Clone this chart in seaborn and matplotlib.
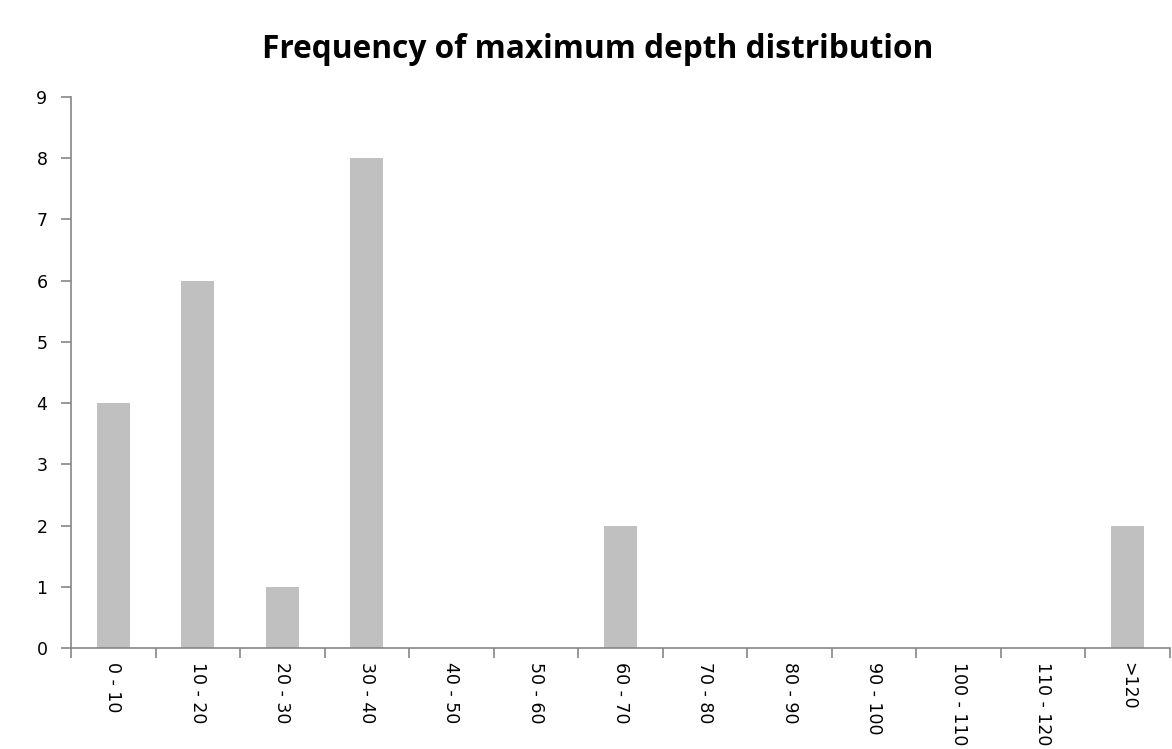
import matplotlib
matplotlib.use("Agg")
import matplotlib.pyplot as plt
import seaborn as sns
import pandas as pd
import numpy as np

categories = ["0 - 10", "10 - 20", "20 - 30", "30 - 40", "40 - 50", "50 - 60",
              "60 - 70", "70 - 80", "80 - 90", "90 - 100", "100 - 110",
              "110 - 120", ">120"]
counts = [4, 6, 1, 8, 0, 0, 2, 0, 0, 0, 0, 0, 2]
y_ticks = list(range(0, 10))
title = "Frequency of maximum depth distribution"

sns.set_theme(style="white")
plt.rcParams['font.family'] = ['DejaVu Sans']

df = pd.DataFrame({"range": categories, "count": counts})

fig = plt.figure(figsize=(11.72, 7.49), dpi=100)
ax = fig.add_axes([71/1172, 1-648/749, (1170-71)/1172, (648-97)/749])

sns.barplot(data=df, x="range", y="count", order=categories, color="#C0C0C0",
            width=0.39, saturation=1, ax=ax, edgecolor="none")

axis_col = "#868686"
ax.set_xlim(-0.5, len(categories) - 0.5)
ax.set_ylim(0, 9)
ax.set_yticks(y_ticks)
ax.set_yticklabels([str(v) for v in y_ticks], fontsize=12.5, color="#000000")
ax.set_xticks(range(len(categories)))
ax.set_xticklabels(categories, rotation=270, fontsize=12.5, color="#000000",
                   ha="center", va="top")
ax.set_xticks(np.arange(-0.5, len(categories), 1.0), minor=True)
ax.tick_params(axis="x", which="major", length=0, pad=10)
ax.tick_params(axis="x", which="minor", length=7, width=1.2, color=axis_col,
               direction="out", bottom=True)
ax.tick_params(axis="y", which="major", length=7, width=1.2, color=axis_col,
               direction="out", left=True, pad=10)
ax.set_xlabel("")
ax.set_ylabel("")
for s in ["top", "right"]:
    ax.spines[s].set_visible(False)
for s in ["left", "bottom"]:
    ax.spines[s].set_color(axis_col)
    ax.spines[s].set_linewidth(1.2)
ax.grid(False)

fig.text(598/1172, 1-49/749, title, ha="center", va="center",
         fontsize=22.8, fontweight="bold", color="#000000",
         family=["Open Sans", "DejaVu Sans"])

fig.savefig("out.png", dpi=100)
